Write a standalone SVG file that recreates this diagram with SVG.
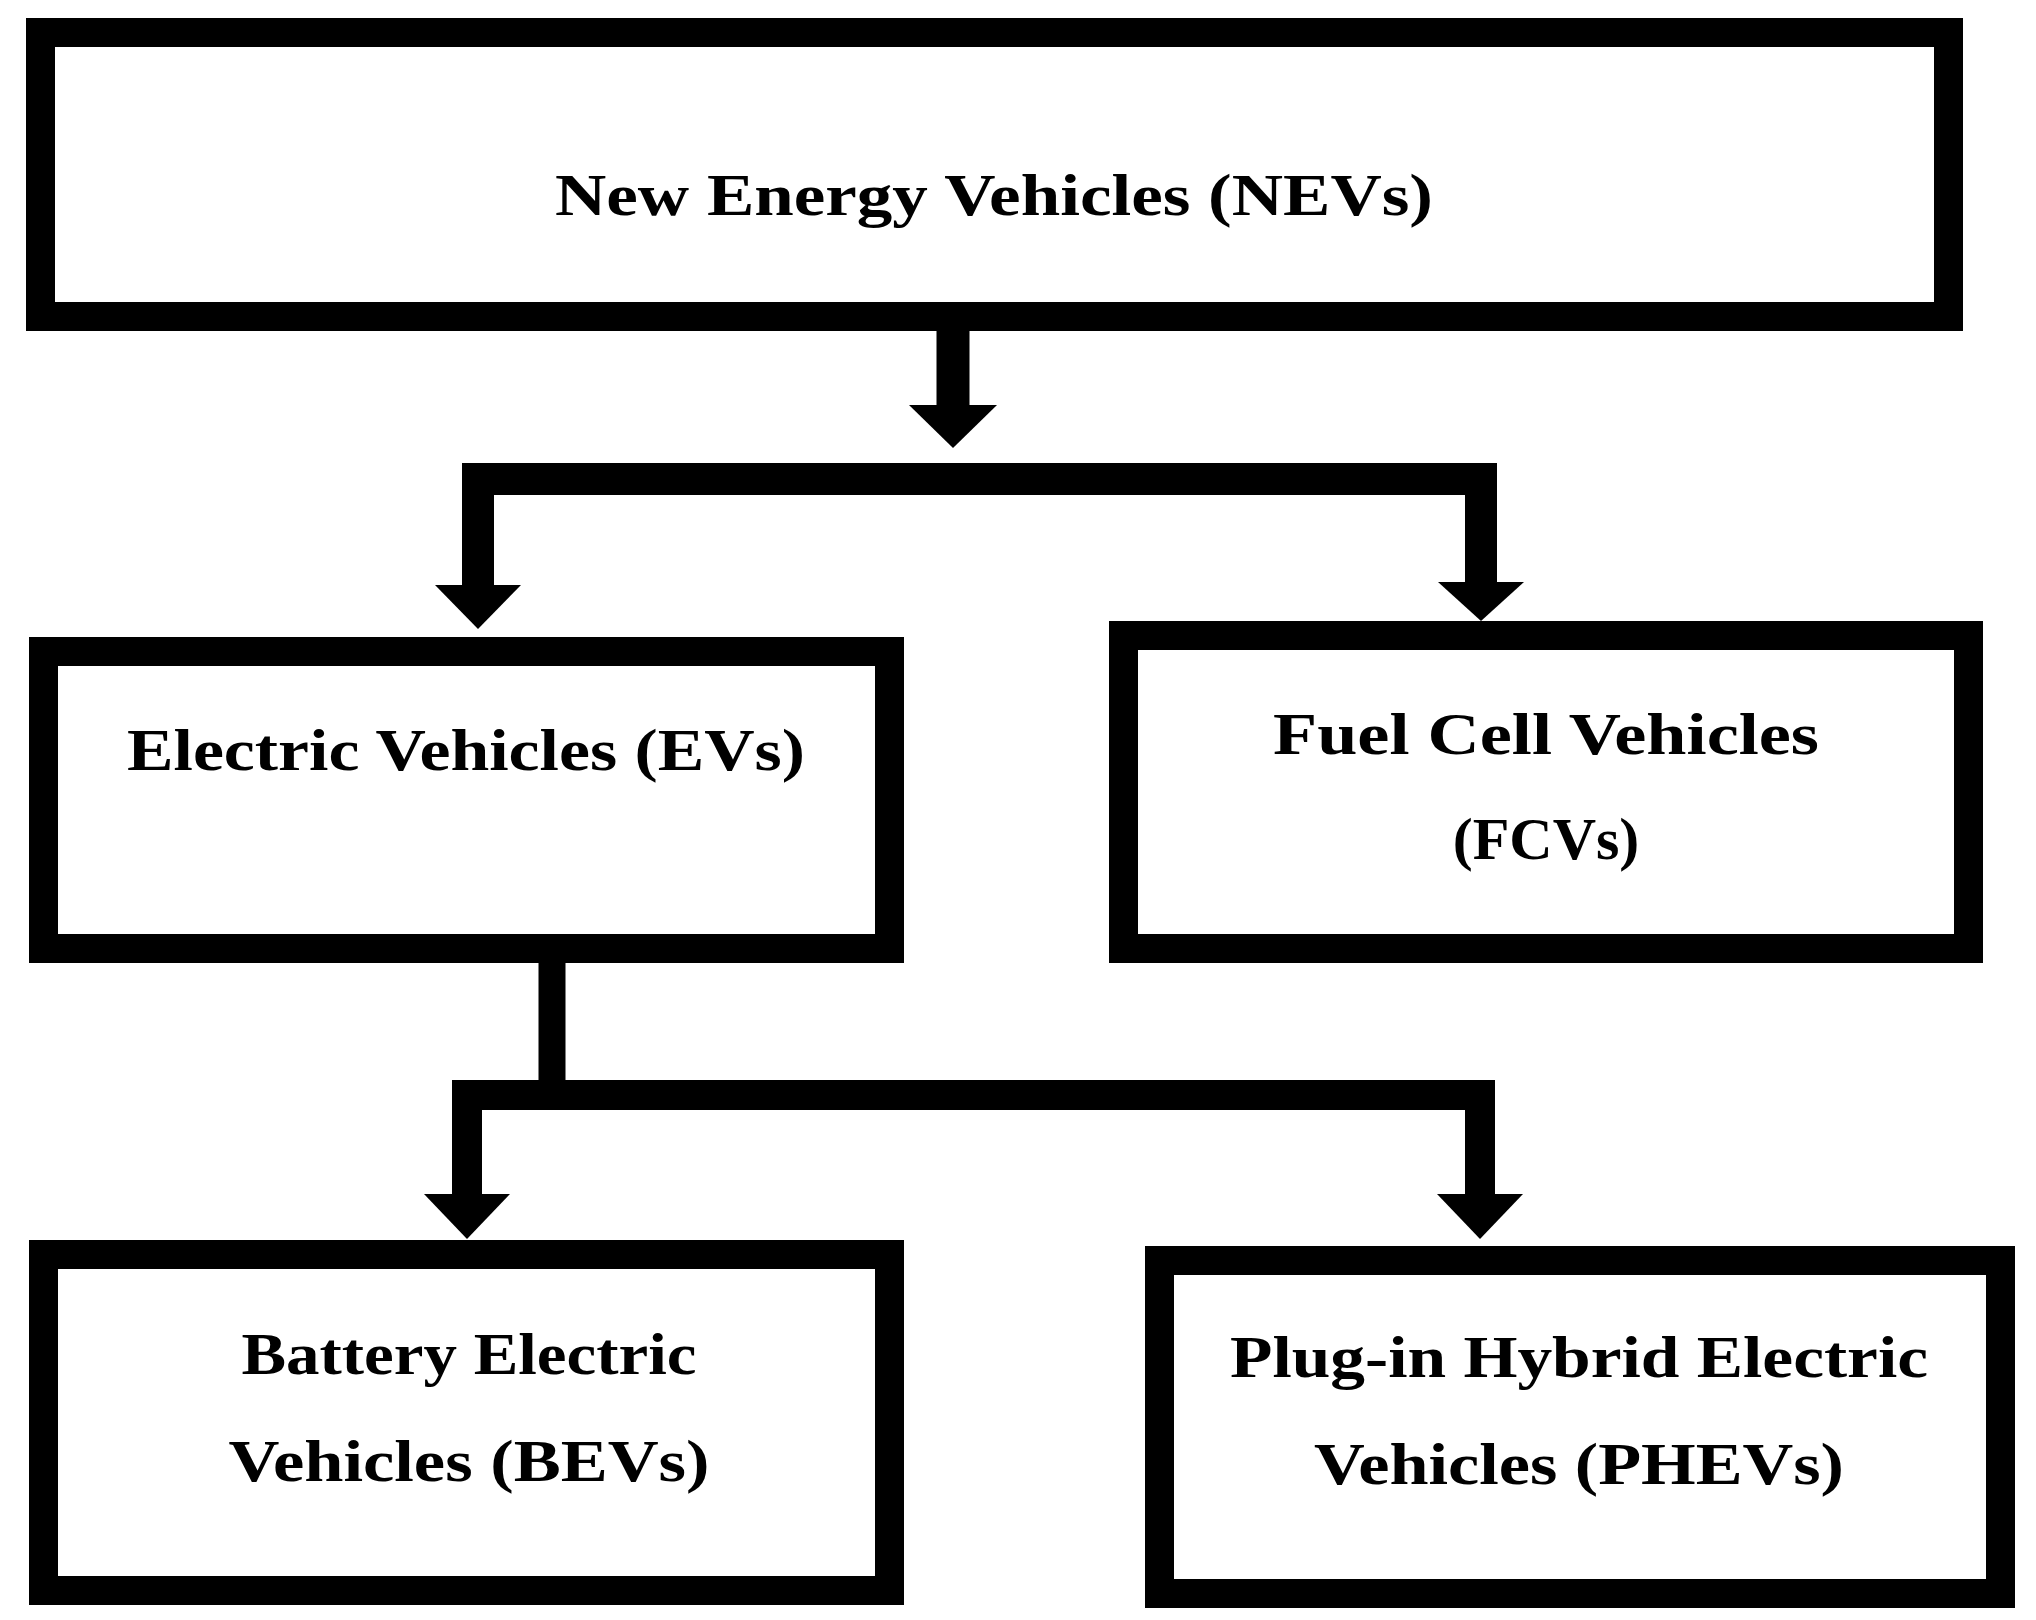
<svg xmlns="http://www.w3.org/2000/svg" width="2036" height="1620" viewBox="0 0 2036 1620">
<style>
.box{fill:#fff;stroke:#000;stroke-width:29}
.t{font-family:"Liberation Serif",serif;font-weight:bold;font-size:60px;text-anchor:middle;fill:#000}
.ln{stroke:#000;fill:none}
.hd{fill:#000}
</style>
<rect width="2036" height="1620" fill="#fff"/>
<g id="nev"><rect class="box" x="40.5" y="32.5" width="1908" height="284"/><text class="t" x="994" y="215" textLength="878" lengthAdjust="spacingAndGlyphs">New Energy Vehicles (NEVs)</text></g>
<g id="ev"><rect class="box" x="43.5" y="651.5" width="846" height="297"/><text class="t" x="466" y="770" textLength="678" lengthAdjust="spacingAndGlyphs">Electric Vehicles (EVs)</text></g>
<g id="fcv"><rect class="box" x="1123.5" y="635.5" width="845" height="313"/><text class="t" x="1546" y="754" textLength="546" lengthAdjust="spacingAndGlyphs">Fuel Cell Vehicles</text><text class="t" x="1546" y="859">(FCVs)</text></g>
<g id="bev"><rect class="box" x="43.5" y="1254.5" width="846" height="336"/><text class="t" x="469" y="1374" textLength="455" lengthAdjust="spacingAndGlyphs">Battery Electric</text><text class="t" x="469" y="1481" textLength="481" lengthAdjust="spacingAndGlyphs">Vehicles (BEVs)</text></g>
<g id="phev"><rect class="box" x="1159.5" y="1260.5" width="841" height="333"/><text class="t" x="1579" y="1377" textLength="698" lengthAdjust="spacingAndGlyphs">Plug-in Hybrid Electric</text><text class="t" x="1579" y="1484" textLength="530" lengthAdjust="spacingAndGlyphs">Vehicles (PHEVs)</text></g>
<g id="connectors">
<line class="ln" x1="953" y1="331" x2="953" y2="408" stroke-width="33"/>
<polygon class="hd" points="909,405 997,405 953,448"/>
<polyline class="ln" points="478,588 478,479 1481,479 1481,585" stroke-width="32"/>
<polygon class="hd" points="435,585 521,585 478,629"/>
<polygon class="hd" points="1438,582 1524,582 1481,621"/>
<line class="ln" x1="552" y1="963" x2="552" y2="1095" stroke-width="27"/>
<polyline class="ln" points="467,1197 467,1095 1480,1095 1480,1197" stroke-width="30"/>
<polygon class="hd" points="424,1194 510,1194 467,1239"/>
<polygon class="hd" points="1437,1194 1523,1194 1480,1239"/>
</g>
</svg>
